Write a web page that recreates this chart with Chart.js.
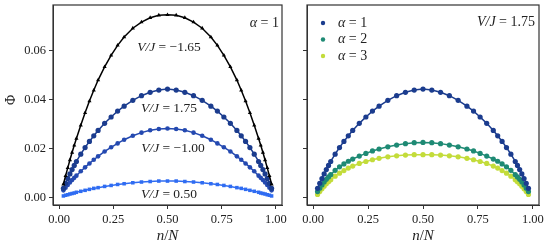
<!DOCTYPE html>
<html>
<head>
<meta charset="utf-8">
<script src="https://cdn.jsdelivr.net/npm/chart.js@4"></script>
<style>
  body { margin: 0; background: #fff; }
  #wrap { position: relative; width: 552px; height: 248px; }
  canvas { position: absolute; top: 0; }
</style>
</head>
<body>
<div id="wrap">
  <canvas id="left" width="300" height="248" style="left:0;width:300px;height:248px"></canvas>
  <canvas id="right" width="272" height="248" style="left:280px;width:272px;height:248px"></canvas>
</div>
<script>
// n/N positions (denser near the edges, as in the picture)
const nN = [0.02, 0.03, 0.04, 0.05, 0.06, 0.07, 0.08, 0.10, 0.12, 0.14, 0.16, 0.18, 0.21, 0.24, 0.27, 0.30, 0.34, 0.38, 0.42, 0.46,
            0.50,
            0.54, 0.58, 0.62, 0.66, 0.70, 0.73, 0.76, 0.79, 0.82, 0.84, 0.86, 0.88, 0.90, 0.92, 0.93, 0.94, 0.95, 0.96, 0.97, 0.98];

// left panel, alpha = 1
const phiVm165 = [0.0055, 0.0089, 0.0122, 0.0154, 0.0185, 0.0214, 0.0242, 0.0296, 0.0347, 0.0395, 0.0439, 0.0481, 0.0535, 0.0582, 0.0623, 0.0657, 0.0693, 0.0718, 0.0736, 0.0746,
                  0.0748,
                  0.0746, 0.0736, 0.0718, 0.0693, 0.0657, 0.0623, 0.0582, 0.0535, 0.0481, 0.0439, 0.0395, 0.0347, 0.0296, 0.0242, 0.0214, 0.0185, 0.0154, 0.0122, 0.0089, 0.0055];
const phiV175 = [0.0038, 0.0059, 0.0078, 0.0097, 0.0115, 0.0132, 0.0148, 0.0178, 0.0205, 0.0230, 0.0253, 0.0275, 0.0304, 0.0330, 0.0354, 0.0374, 0.0398, 0.0417, 0.0431, 0.0440,
                 0.0444,
                 0.0440, 0.0431, 0.0417, 0.0398, 0.0374, 0.0354, 0.0330, 0.0304, 0.0275, 0.0253, 0.0230, 0.0205, 0.0178, 0.0148, 0.0132, 0.0115, 0.0097, 0.0078, 0.0059, 0.0038];
const phiVm100 = [0.0030, 0.0041, 0.0052, 0.0062, 0.0072, 0.0081, 0.0090, 0.0108, 0.0124, 0.0140, 0.0155, 0.0169, 0.0189, 0.0206, 0.0222, 0.0237, 0.0253, 0.0266, 0.0276, 0.0281,
                  0.0283,
                  0.0281, 0.0276, 0.0266, 0.0253, 0.0237, 0.0222, 0.0206, 0.0189, 0.0169, 0.0155, 0.0140, 0.0124, 0.0108, 0.0090, 0.0081, 0.0072, 0.0062, 0.0052, 0.0041, 0.0030];
const phiV050 = [0.0007, 0.0010, 0.0012, 0.0015, 0.0017, 0.0019, 0.0022, 0.0026, 0.0030, 0.0034, 0.0038, 0.0041, 0.0046, 0.0050, 0.0054, 0.0057, 0.0061, 0.0064, 0.0066, 0.0068,
                 0.0068,
                 0.0068, 0.0066, 0.0064, 0.0061, 0.0057, 0.0054, 0.0050, 0.0046, 0.0041, 0.0038, 0.0034, 0.0030, 0.0026, 0.0022, 0.0019, 0.0017, 0.0015, 0.0012, 0.0010, 0.0007];

// right panel, V/J = 1.75 (alpha = 1 is the same curve as phiV175)
const phiA2 = [0.0025, 0.0039, 0.0052, 0.0064, 0.0075, 0.0085, 0.0094, 0.0112, 0.0126, 0.0138, 0.0149, 0.0158, 0.0170, 0.0181, 0.0191, 0.0199, 0.0208, 0.0215, 0.0221, 0.0225,
               0.0226,
               0.0225, 0.0221, 0.0215, 0.0208, 0.0199, 0.0191, 0.0181, 0.0170, 0.0158, 0.0149, 0.0138, 0.0126, 0.0112, 0.0094, 0.0085, 0.0075, 0.0064, 0.0052, 0.0039, 0.0025];
const phiA3 = [0.0013, 0.0025, 0.0036, 0.0047, 0.0057, 0.0065, 0.0073, 0.0088, 0.0100, 0.0111, 0.0121, 0.0129, 0.0140, 0.0148, 0.0155, 0.0161, 0.0167, 0.0171, 0.0174, 0.0176,
               0.0176,
               0.0176, 0.0174, 0.0171, 0.0167, 0.0161, 0.0155, 0.0148, 0.0140, 0.0129, 0.0121, 0.0111, 0.0100, 0.0088, 0.0073, 0.0065, 0.0057, 0.0047, 0.0036, 0.0025, 0.0013];

const xTicks = [0, 0.25, 0.5, 0.75, 1.0];
const yTicks = [0, 0.02, 0.04, 0.06];

const SERIF = "'Liberation Serif', 'DejaVu Serif', serif";
const AXIS = '#333';

function pts(ys) { return ys.map((y, i) => ({ x: nN[i], y: y })); }

function ds(label, ys, color, style, r) {
  return {
    label: label, data: pts(ys), showLine: true,
    borderColor: color, backgroundColor: color, borderWidth: 1.5,
    pointStyle: style, pointRadius: r, pointBorderWidth: 0, tension: 0
  };
}

// draws text made of [string, italic] parts
function rich(ctx, parts, x, y, align, size) {
  const fonts = parts.map(p => (p[1] ? 'italic ' : '') + size + 'px ' + SERIF);
  let w = 0;
  parts.forEach((p, i) => { ctx.font = fonts[i]; w += ctx.measureText(p[0]).width; });
  let cx = align === 'center' ? x - w / 2 : align === 'right' ? x - w : x;
  ctx.textBaseline = 'middle';
  ctx.textAlign = 'left';
  ctx.fillStyle = '#222';
  parts.forEach((p, i) => { ctx.font = fonts[i]; ctx.fillText(p[0], cx, y); cx += ctx.measureText(p[0]).width; });
}

function scales(yWidth, showY) {
  return {
    x: {
      type: 'linear', min: -0.028, max: 1.028,
      afterBuildTicks: s => { s.ticks = xTicks.map(v => ({ value: v })); },
      afterFit: s => { s.height = 43; s.paddingLeft = 0; s.paddingRight = 0; },
      ticks: { font: { family: SERIF, size: 12.5 }, color: '#222', padding: 3, maxRotation: 0,
               callback: v => Number(v).toFixed(2) },
      grid: { drawOnChartArea: false, drawTicks: true, tickLength: 4, color: AXIS },
      border: { display: true, color: AXIS }
    },
    y: {
      type: 'linear', min: -0.003, max: 0.0788,
      afterBuildTicks: s => { s.ticks = yTicks.map(v => ({ value: v })); },
      afterFit: s => { s.width = yWidth; s.paddingTop = 0; s.paddingBottom = 0; },
      ticks: { font: { family: SERIF, size: 12.5 }, color: showY ? '#222' : 'rgba(0,0,0,0)', padding: 3,
               callback: v => Number(v).toFixed(2) },
      grid: { drawOnChartArea: false, drawTicks: true, tickLength: 4, color: AXIS },
      border: { display: true, color: AXIS }
    }
  };
}

const framePlugin = {
  id: 'frame',
  afterDraw(chart, args, opts) {
    const a = chart.chartArea, ctx = chart.ctx;
    ctx.save();
    ctx.strokeStyle = AXIS;
    ctx.lineWidth = 1.2;
    ctx.strokeRect(a.left, a.top, a.right - a.left, a.bottom - a.top);
    rich(ctx, [['n', true], ['/', false], ['N', true]], (a.left + a.right) / 2, 236, 'center', 15);
    opts.draw(ctx, a, chart);
    ctx.restore();
  }
};

new Chart(document.getElementById('left'), {
  type: 'scatter',
  data: {
    datasets: [
      ds('V/J = -1.65', phiVm165, '#000000', 'triangle', 2.4),
      ds('V/J = 1.75', phiV175, '#1b3c8e', 'circle', 2.6),
      ds('V/J = -1.00', phiVm100, '#2449b0', 'circle', 2.3),
      ds('V/J = 0.50', phiV050, '#2f6cf2', 'rect', 2.5)
    ]
  },
  options: {
    responsive: false, animation: false,
    layout: { padding: { left: 0, right: 18, top: 5, bottom: 0 } },
    plugins: {
      legend: { display: false }, tooltip: { enabled: false },
      frame: {
        draw(ctx, a) {
          ctx.save();
          ctx.translate(11, 100);
          ctx.rotate(-Math.PI / 2);
          rich(ctx, [['Φ', false]], 0, 0, 'center', 14);
          ctx.restore();
          rich(ctx, [['α', true], [' = 1', false]], 279, 23, 'right', 14);
          rich(ctx, [['V/J', true], [' = −1.65', false]], 169, 47, 'center', 13.5);
          rich(ctx, [['V/J', true], [' = 1.75', false]], 169, 108, 'center', 13.5);
          rich(ctx, [['V/J', true], [' = −1.00', false]], 173, 148, 'center', 13.5);
          rich(ctx, [['V/J', true], [' = 0.50', false]], 169, 194, 'center', 13.5);
        }
      }
    },
    scales: scales(53, true)
  },
  plugins: [framePlugin]
});

new Chart(document.getElementById('right'), {
  type: 'scatter',
  data: {
    datasets: [
      ds('1', phiV175, '#1b3c8e', 'circle', 2.6),
      ds('2', phiA2, '#1e8a74', 'circle', 2.6),
      ds('3', phiA3, '#c3dc3a', 'circle', 2.6)
    ]
  },
  options: {
    responsive: false, animation: false,
    layout: { padding: { left: 0, right: 13, top: 5, bottom: 0 } },
    plugins: {
      legend: { display: false }, tooltip: { enabled: false },
      frame: {
        draw(ctx, a, chart) {
          rich(ctx, [['V/J', true], [' = 1.75', false]], 255, 22, 'right', 14);
          chart.data.datasets.forEach((d, i) => {
            const y = 23 + i * 16.5;
            ctx.fillStyle = d.borderColor;
            ctx.beginPath();
            ctx.arc(43, y, 2.2, 0, Math.PI * 2);
            ctx.fill();
            rich(ctx, [['α', true], [' = ' + d.label, false]], 58, y, 'left', 14);
          });
        }
      }
    },
    scales: scales(27, false)
  },
  plugins: [framePlugin]
});
</script>
</body>
</html>
